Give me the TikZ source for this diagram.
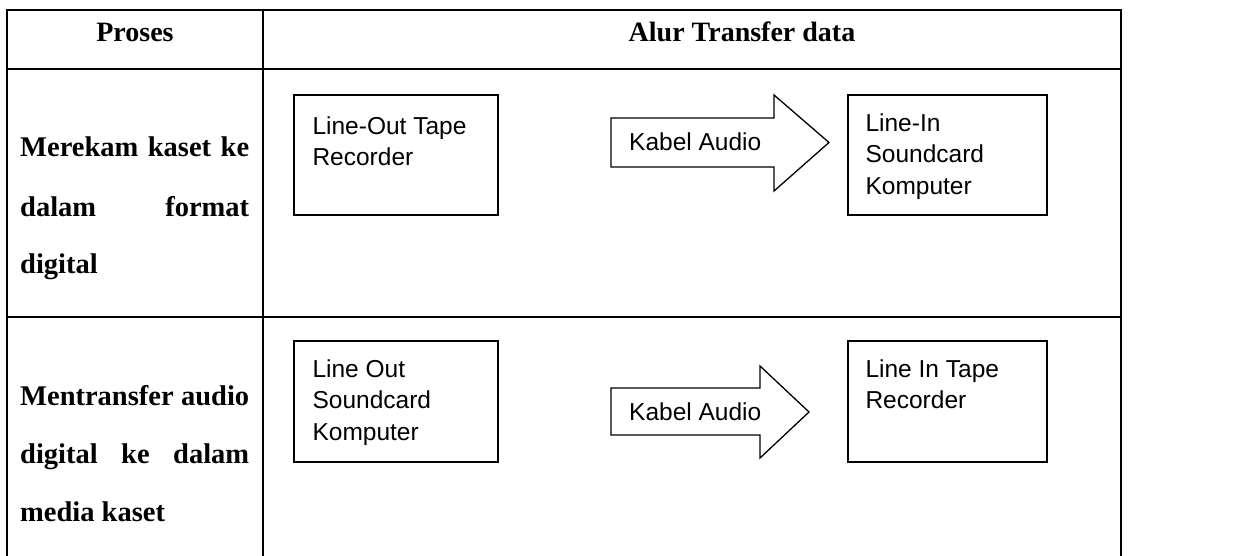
\documentclass[tikz,border=0pt]{standalone}
\usepackage{fontspec}
\setmainfont{Liberation Serif}
\setsansfont{Liberation Sans}
\usetikzlibrary{calc}

\begin{document}
\begin{tikzpicture}[x=1pt,y=-1pt,
  grid/.style={line width=2pt, line join=miter},
  devbox/.style={draw, line width=1.3pt, rectangle, inner sep=0pt,
    minimum width=204pt, minimum height=120pt},
  devtext/.style={anchor=base west, inner sep=0pt,
    font=\sffamily\fontsize{24.5}{31.5}\selectfont},
  cell/.style={anchor=base west, inner sep=0pt,
    font=\bfseries\fontsize{28.5}{35}\selectfont},
  head/.style={anchor=base, inner sep=0pt,
    font=\bfseries\fontsize{28}{34}\selectfont},
  flow/.style={draw, line width=1.3pt, fill=white, line join=miter},
]
\useasboundingbox (0,0) rectangle (1234,556);

% table rules
\draw[grid] (7.3,556) -- (7.3,10) -- (1121,10) -- (1121,556);
\draw[grid] (7.3,69) -- (1121,69);
\draw[grid] (7.3,317) -- (1121,317);
\draw[grid] (263,10) -- (263,556);

% header row
\node[head] (hproc) at (135,41.7) {Proses};
\node[head] (hflow) at (742,41.7) {Alur Transfer data};

% process descriptions
\node[cell] (r1a) at (20,156.7) {\makebox[229pt][s]{Merekam kaset ke}};
\node[cell] (r1b) at (20,216.7) {\makebox[229pt][s]{dalam format}};
\node[cell] (r1c) at (20,273) {digital};
\node[cell] (r2a) at (20,405) {\makebox[229pt][s]{Mentransfer audio}};
\node[cell] (r2b) at (20,463.3) {\makebox[229pt][s]{digital ke dalam}};
\node[cell] (r2c) at (20,521.7) {media kaset};

% device boxes
\node[devbox] (src1) at (396,155) {};
\node[devbox, minimum width=199pt] (dst1) at (947.5,155) {};
\node[devbox, minimum height=121pt] (src2) at (396,401.5) {};
\node[devbox, minimum width=199pt, minimum height=121pt] (dst2) at (947.5,401.5) {};

\node[devtext] (src1t) at ($(src1.north west)+(19,40)$)
  {\vtop{\hbox{Line-Out Tape}\hbox{Recorder}}};
\node[devtext] (dst1t) at ($(dst1.north west)+(18,37)$)
  {\vtop{\hbox{Line-In}\hbox{Soundcard}\hbox{Komputer}}};
\node[devtext] (src2t) at ($(src2.north west)+(19,37)$)
  {\vtop{\hbox{Line Out}\hbox{Soundcard}\hbox{Komputer}}};
\node[devtext] (dst2t) at ($(dst2.north west)+(18,37)$)
  {\vtop{\hbox{Line In Tape}\hbox{Recorder}}};

% block arrows for the audio cable
\draw[flow] (611,118) -- (774,118) -- (774,95) -- (829,142.5)
  -- (774,191) -- (774,167) -- (611,167) -- cycle;
\node[devtext] (cab1) at (629,150.7) {Kabel Audio};

\draw[flow] (611,388) -- (760,388) -- (760,366) -- (809,412)
  -- (760,458) -- (760,435) -- (611,435) -- cycle;
\node[devtext] (cab2) at (629,420.7) {Kabel Audio};
\end{tikzpicture}
\end{document}
